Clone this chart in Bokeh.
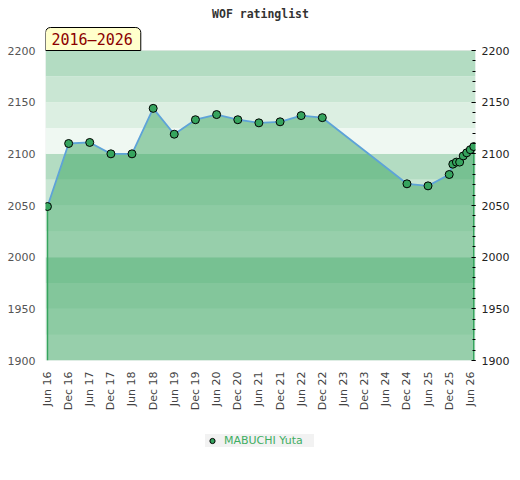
import math
import pandas as pd
from bokeh.plotting import figure
from bokeh.layouts import column
from bokeh.models import (Range1d, LinearAxis, DatetimeTickFormatter, MonthsTicker,
                          FixedTicker, BoxAnnotation, Label, Legend, LegendItem,
                          ColumnDataSource)
from bokeh.embed import file_html
from bokeh.resources import INLINE

# ---- data ----
title_text = "WOF ratinglist"
period_text = "2016–2026"
player = "MABUCHI Yuta"
dates = ["2016-06-01", "2016-12-01", "2017-06-01", "2017-12-01", "2018-06-01", "2018-12-01",
         "2019-06-01", "2019-12-01", "2020-06-01", "2020-12-01", "2021-06-01", "2021-12-01",
         "2022-06-01", "2022-12-01", "2024-12-01", "2025-06-01", "2025-12-01", "2026-01-01",
         "2026-02-01", "2026-03-01", "2026-04-01", "2026-05-01", "2026-06-01", "2026-07-01"]
ratings = [2049, 2110, 2111, 2100, 2100, 2144, 2119, 2133, 2138, 2133, 2130, 2131,
           2137, 2135, 2071, 2069, 2080, 2090, 2092, 2092, 2098, 2101, 2104, 2107]
y_ticks = [1900, 1950, 2000, 2050, 2100, 2150, 2200]
y_minor_ticks = list(range(1900, 2201, 10))
band_starts = [1900, 1925, 1950, 1975, 2000, 2025, 2050, 2075,
               2100, 2125, 2150, 2175]
band_colors = ["#eff8f2", "#dcefe2", "#c9e6d3", "#b3dcc2"]
y_min, y_max = 1900, 2200

GREEN = "#36a45e"
BLUE = "#5ea3d8"
FONT = "DejaVu Sans"

x = pd.to_datetime(dates)
src = ColumnDataSource(dict(x=x, y=ratings, base=[y_min] * len(ratings)))

x_start = x[0] - pd.Timedelta(days=17)
x_end = x[-1] + pd.Timedelta(days=15)
# the frame reaches to the top of the figure so that title and badge are inside it
px_per_unit = 310 / (y_max - y_min)
y_top = y_max + 50 / px_per_unit

p = figure(width=512, height=420, x_axis_type="datetime",
           x_range=Range1d(x_start, x_end), y_range=Range1d(y_min, y_top),
           output_backend="svg", toolbar_location=None,
           min_border_left=45, min_border_right=37, min_border_top=0, min_border_bottom=60,
           background_fill_color="white", border_fill_color="white",
           outline_line_color=None)
p.xgrid.visible = False
p.ygrid.visible = False

# horizontal bands
for b in band_starts:
    idx = ((b - y_min) // 25) % 4
    p.add_layout(BoxAnnotation(bottom=b, top=b + 25, fill_color=band_colors[idx],
                               fill_alpha=1.0, line_color=None, level="underlay"))
# plot border
p.add_layout(BoxAnnotation(bottom=y_min, top=y_max, fill_color=None, fill_alpha=0,
                           line_color="#d6d6d6", line_width=1, level="underlay"))

# area
p.varea(x="x", y1="base", y2="y", source=src, fill_color=GREEN, fill_alpha=0.48)
# vertical edges of the area
p.segment(x0=[x[0], x[-1]], y0=[ratings[0], ratings[-1]], x1=[x[0], x[-1]],
          y1=[y_min, y_min], line_color=GREEN, line_width=1.5)
p.line(x="x", y="y", source=src, line_color=BLUE, line_width=1.8)
p.scatter(x="x", y="y", source=src, size=8, fill_color=GREEN,
          line_color="black", line_width=1)

# axes
xa = p.xaxis[0]
xa.ticker = MonthsTicker(months=[5, 11])
xa.formatter = DatetimeTickFormatter(months="%b %y", years="%b %y", days="%b %y")
xa.major_label_orientation = math.pi / 2
xa.major_label_text_font = FONT
xa.major_label_text_font_size = "11px"
xa.major_label_text_color = "#444444"
xa.major_label_standoff = 11
xa.major_tick_out = 0
xa.major_tick_in = 0
xa.minor_tick_out = 0
xa.minor_tick_in = 0
xa.axis_line_color = None

ya = p.yaxis[0]
ya.ticker = FixedTicker(ticks=y_ticks)
ya.major_label_text_font = FONT
ya.major_label_text_font_size = "11px"
ya.major_label_text_color = "#555555"
ya.major_label_standoff = 10
ya.major_tick_out = 0
ya.major_tick_in = 0
ya.minor_tick_out = 0
ya.minor_tick_in = 0
ya.axis_line_color = None

ra = LinearAxis(ticker=FixedTicker(ticks=y_ticks, minor_ticks=y_minor_ticks))
ra.major_label_text_font = FONT
ra.major_label_text_font_size = "11px"
ra.major_label_text_color = "#222222"
ra.major_label_standoff = 6
ra.major_tick_out = 0
ra.major_tick_in = 4
ra.minor_tick_out = 0
ra.minor_tick_in = 3
ra.major_tick_line_color = "black"
ra.minor_tick_line_color = "black"
ra.axis_line_color = None
p.add_layout(ra, "right")

# title and period badge
mid = x_start + (x_end - x_start) / 2
p.add_layout(Label(x=mid, y=y_max, y_offset=37, text=title_text, text_align="center",
                   text_baseline="middle", text_font="DejaVu Sans Mono",
                   text_font_size="11.5px", text_font_style="bold", text_color="#333333"))
p.add_layout(Label(x=x_start, y=y_max, text=period_text, text_align="left",
                   text_baseline="bottom", anchor="bottom_left",
                   text_font="DejaVu Sans Mono", text_font_size="15px",
                   text_color="#8b0000", background_fill_color="#ffffcc",
                   border_line_color="black", border_line_width=1,
                   padding=dict(left=6, right=8, top=3, bottom=2),
                   border_radius=dict(top_left=5, top_right=5, bottom_right=0, bottom_left=0)))

# legend strip below the chart (its frame is aligned with the chart's frame)
q = figure(width=512, height=44, x_range=Range1d(0, 1), y_range=Range1d(0, 1),
           output_backend="svg", toolbar_location=None,
           x_axis_location=None, y_axis_location=None,
           min_border_left=0, min_border_right=0, min_border_top=0, min_border_bottom=0,
           background_fill_color="white", border_fill_color="white",
           outline_line_color=None)
q.xgrid.visible = False
q.ygrid.visible = False
# same series, outside this strip's ranges: it only supplies the legend glyph
proxy = q.scatter(x="x", y="y", source=src, size=8, fill_color=GREEN,
                  line_color="black", line_width=1)
legend = Legend(items=[LegendItem(label=player, renderers=[proxy])],
                location=(160, 17), orientation="horizontal",
                background_fill_color="#f2f2f2", background_fill_alpha=1,
                border_line_color=None, padding=3, margin=0,
                label_text_font=FONT, label_text_font_size="11px",
                label_text_color="#3fae62", label_height=13, glyph_height=13,
                glyph_width=14, label_width=90, label_standoff=5)
q.add_layout(legend, "center")

open("out.html", "w").write(file_html(column(p, q, spacing=0), INLINE))
